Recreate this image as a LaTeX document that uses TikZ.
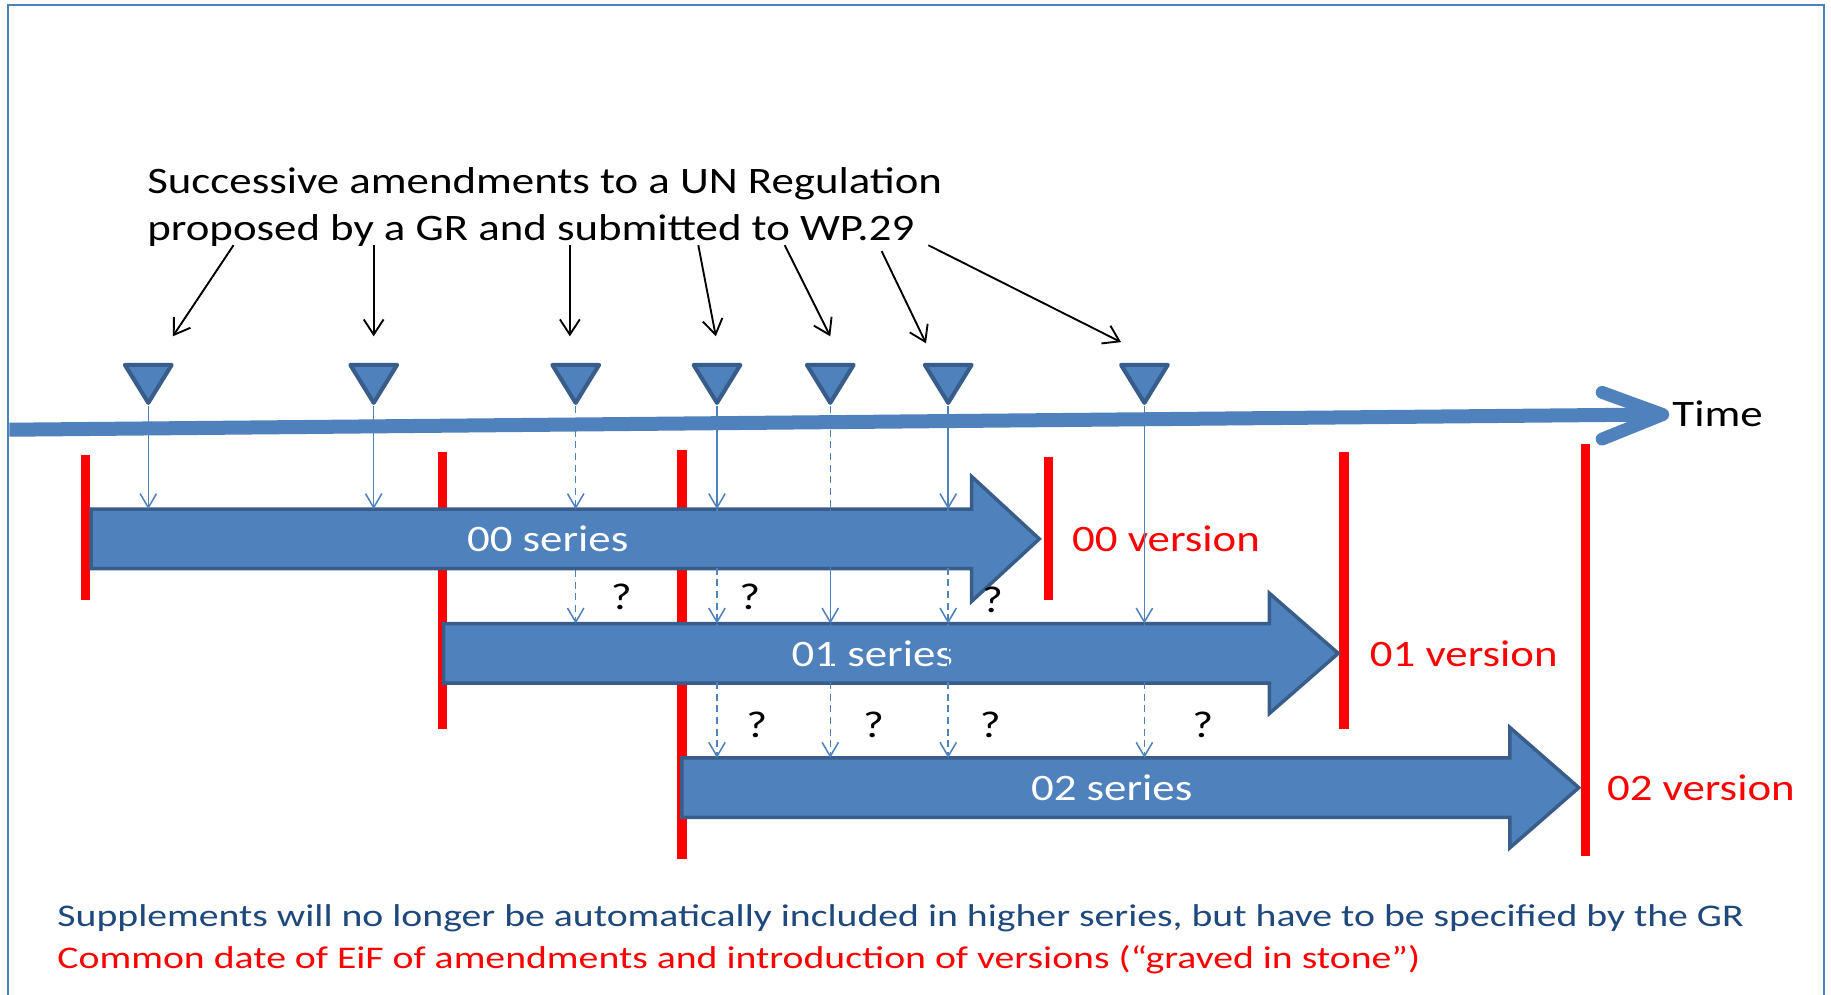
\documentclass[tikz,border=0pt]{standalone}
\usepackage{fontspec}
\setmainfont{Carlito}
\newfontfamily\wideA[FakeStretch=1.2]{Carlito}
\newfontfamily\wideB[FakeStretch=1.26]{Carlito}
\usetikzlibrary{arrows.meta}
\definecolor{ob}{HTML}{4F81BD}
\definecolor{obd}{HTML}{385D8A}
\definecolor{tb}{HTML}{1F497D}
\definecolor{rd}{HTML}{FF0000}
\tikzset{
  tri/.style={fill=ob, draw=obd, line width=3.5, line join=round},
  blk/.style={fill=ob, draw=obd, line width=3, line join=miter},
  redbar/.style={rd, line width=8},
  conn/.style={ob, line width=1.3, -{Straight Barb[length=12,width=14,line width=1.3]}},
  dconn/.style={conn, dash pattern=on 6 off 4},
  dline/.style={ob, line width=1.3, dash pattern=on 6 off 4},
  pointer/.style={black, line width=1.6, -{Straight Barb[length=13,width=17,line width=1.6]}},
  bigtxt/.style={font=\wideA\fontsize{32}{38}\selectfont, inner sep=0},
  serlab/.style={bigtxt, text=white},
  verlab/.style={bigtxt, text=rd, anchor=west},
  qm/.style={bigtxt, text=black},
  note/.style={font=\wideB\fontsize{27}{32}\selectfont, inner sep=0, anchor=base west}
}
\begin{document}
\begin{tikzpicture}[x=1pt,y=-1pt]
\useasboundingbox (0,0) rectangle (1568,852);
\fill[white] (0,0) rectangle (1568,852);
% frame
\draw[ob, line width=1.8] (7,880) -- (7,4.5) -- (1562,4.5) -- (1562,880);

% title
\node[bigtxt, anchor=base west] (title1) at (126,166) {Successive amendments to a UN Regulation};
\node[bigtxt, anchor=base west] (title2) at (126,206) {proposed by a GR and submitted to WP.29};

% time axis
\coordinate (axs) at (8,368);
\coordinate (axe) at (1416,355);
\coordinate (tip) at (1424,355);
\draw[ob, line width=12] (axs) -- (axe);
\draw[ob, line width=11, line cap=round, line join=round] (1372,336) -- (tip) -- (1372,376);
\node[bigtxt, anchor=base west] (time) at (1432,365) {Time};

% red bars (behind the series arrows)
\draw[redbar] (73,390) -- (73,514);
\draw[redbar] (379,387) -- (379,624);
\draw[redbar] (584,385) -- (584,736);
\draw[redbar] (898,391) -- (898,514);
\draw[redbar] (1151,387) -- (1151,624);
\draw[redbar] (1358,380) -- (1358,733);

% series block arrows
\draw[blk] (78,436) -- (832,436) -- (832,408) -- (890,461.5) -- (832,515) -- (832,487) -- (78,487) -- cycle;
\draw[blk] (380,534) -- (1087,534) -- (1087,508) -- (1146,559.5) -- (1087,611) -- (1087,585) -- (380,585) -- cycle;
\draw[blk] (584,649) -- (1293,649) -- (1293,623) -- (1352,674.5) -- (1293,726) -- (1293,700) -- (584,700) -- cycle;
\node[serlab] (s00) at (469,461.5) {00 series};
\node[serlab] (s01) at (747,559.5) {01 series};
\node[serlab] (s02) at (952,674.5) {02 series};
\coordinate (top00) at (0,436);
\coordinate (bot00) at (0,488);
\coordinate (top01) at (0,534);
\coordinate (top02) at (0,649);

% version labels
\node[verlab] (v00) at (918,461) {00 version};
\node[verlab] (v01) at (1173,560) {01 version};
\node[verlab] (v02) at (1376,675) {02 version};

% amendment triangles
\foreach \n/\x in {1/127,2/320,3/493,4/614,5/711,6/812,7/980}{
  \draw[tri] (\x-20,312.5) -- (\x+20,312.5) -- (\x,345) -- cycle;
  \coordinate (t\n) at (\x,348);
}

% pointers from the title
\coordinate (p1) at (200,210); \coordinate (q1) at (148,288);
\coordinate (p2) at (320,210); \coordinate (q2) at (320,288);
\coordinate (p3) at (488,210); \coordinate (q3) at (488,288);
\coordinate (p4) at (598,210); \coordinate (q4) at (613,288);
\coordinate (p5) at (672,210); \coordinate (q5) at (711,288);
\coordinate (p6) at (755,215); \coordinate (q6) at (793,294);
\coordinate (p7) at (795,210); \coordinate (q7) at (960,293);
\foreach \n in {1,...,7}{ \draw[pointer] (p\n) -- (q\n); }

% connectors
\draw[conn] (t1) -- (t1 |- top00);
\draw[conn] (t2) -- (t2 |- top00);
\draw[dconn] (t3) -- (t3 |- top00);
\draw[dconn] (t3 |- bot00) -- (t3 |- top01);
\draw[conn] (t4) -- (t4 |- top00);
\draw[dconn] (t4 |- top00) -- (t4 |- top01);
\draw[dconn] (t4 |- top01) -- (t4 |- top02);
\draw[dline] (t5) -- (t5 |- top00);
\draw[conn] (t5 |- top00) -- (t5 |- top01);
\draw[dconn] (t5 |- top01) -- (t5 |- top02);
\draw[conn] (t6) -- (t6 |- top00);
\draw[dconn] (t6 |- top00) -- (t6 |- top01);
\draw[dconn] (t6 |- top01) -- (t6 |- top02);
\draw[conn] (t7) -- (t7 |- top01);
\draw[dconn] (t7 |- top01) -- (t7 |- top02);

% question marks
\node[qm] (qa) at (532,511) {?};
\node[qm] (qb) at (642,511) {?};
\node[qm] (qc) at (850,514) {?};
\node[qm] (qd) at (648,621) {?};
\node[qm] (qe) at (748,621) {?};
\node[qm] (qf) at (848,621) {?};
\node[qm] (qg) at (1030,621) {?};

% notes
\node[note, text=tb] (n1) at (49,793) {Supplements will no longer be automatically included in higher series, but have to be specified by the GR};
\node[note, text=rd] (n2) at (49,829) {Common date of EiF of amendments and introduction of versions (“graved in stone”)};
\end{tikzpicture}
\end{document}
